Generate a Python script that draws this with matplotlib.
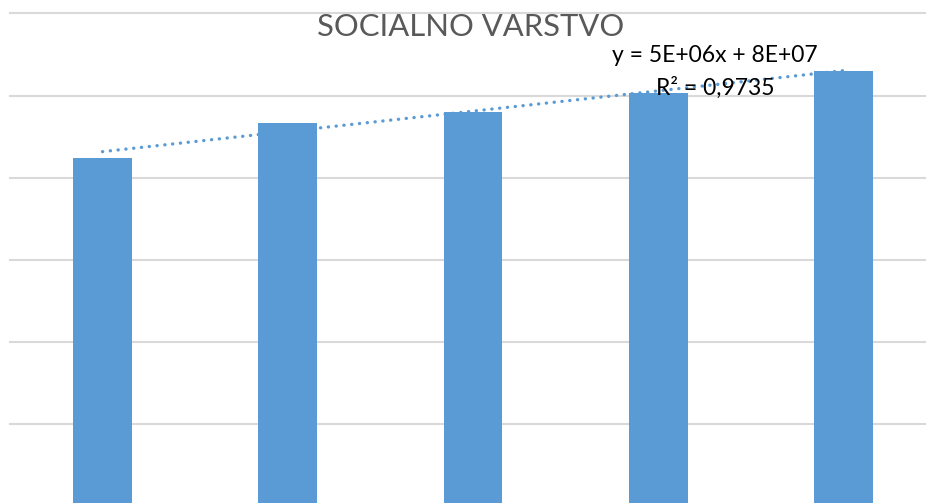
import matplotlib
matplotlib.use("Agg")
import matplotlib.pyplot as plt
import numpy as np

# leta / kategorije (osi so odrezane, oznak ni videti)
categories = [1, 2, 3, 4, 5]
values = [8.49e7, 9.34e7, 9.61e7, 1.007e8, 1.059e8]
grid_levels = [2e7, 4e7, 6e7, 8e7, 1e8, 1.2e8]

title = "SOCIALNO VARSTVO"
eq_text = "y = 5E+06x + 8E+07"
r2_text = "R² = 0,9735"

BLUE = "#5b9bd5"
W, H = 926, 503

fig = plt.figure(figsize=(W / 100, H / 100), dpi=100)
ax = fig.add_axes([10 / W, (H - 506.5) / H, (W - 10) / W, (506.5 - 13.3) / H])

x = np.array(categories, dtype=float)
y = np.array(values)

for g in grid_levels:
    ax.axhline(g, color="#d9d9d9", lw=1.5, zorder=0, clip_on=False)

ax.bar(x, y, width=0.316, color=BLUE, zorder=2)

# linearni trend
k, n = np.polyfit(x, y, 1)
ax.plot(x, k * x + n, color=BLUE, lw=2.4, ls=(0, (0.05, 2.3)),
        dash_capstyle="round", zorder=3)

ax.set_xlim(0.5007, 5.4453)
ax.set_ylim(0, 1.2e8)
ax.axis("off")

fig.text(471 / W, 1 - 27.5 / H, title, ha="center", va="center",
         fontsize=22.3, color="#595959", family=["Lato", "DejaVu Sans"])
fig.text(715 / W, 1 - 56 / H, eq_text, ha="center", va="center",
         fontsize=16.5, color="black", family=["Lato", "DejaVu Sans"])
fig.text(715 / W, 1 - 88 / H, r2_text, ha="center", va="center",
         fontsize=16.5, color="black", family=["Lato", "DejaVu Sans"])

fig.savefig("out.png", dpi=100)
